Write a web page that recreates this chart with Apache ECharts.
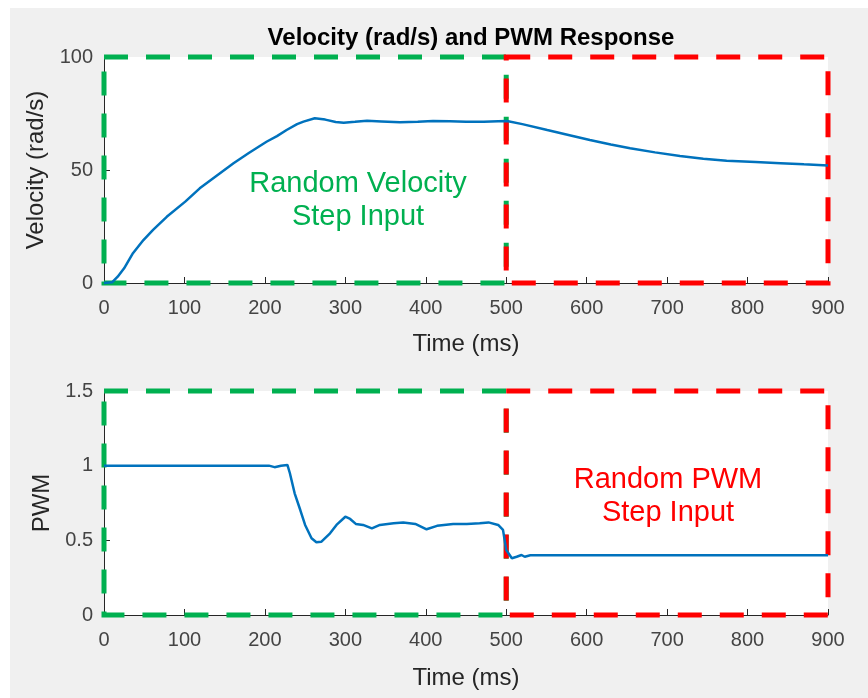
<!DOCTYPE html>
<html>
<head>
<meta charset="utf-8">
<script src="https://cdn.jsdelivr.net/npm/echarts@6/dist/echarts.min.js"></script>
<style>
  html, body { margin: 0; padding: 0; background: #ffffff; }
  #chart { width: 868px; height: 698px; }
</style>
</head>
<body>
<div id="chart"></div>
<script>
// Velocity response (time in ms, velocity in rad/s)
const velTime = [0, 10, 17, 25, 36, 49, 61, 78, 101, 119, 140, 161, 180, 202, 215, 227, 240, 248, 262, 275, 288, 298, 312, 327, 345, 368, 390, 409, 430, 450, 472, 490, 501, 520, 551, 580, 604, 630, 654, 685, 716, 745, 774, 810, 841, 870, 900];
const velocity = [0, 0.3, 2.8, 6.5, 13.2, 19, 23.5, 29.3, 36, 41.9, 47.5, 53, 57.5, 62.5, 65, 67.7, 70.3, 71.4, 72.9, 72.3, 71.2, 70.9, 71.3, 71.8, 71.5, 71.1, 71.3, 71.7, 71.6, 71.4, 71.4, 71.6, 71.7, 70.3, 67.7, 65.3, 63.3, 61.3, 59.6, 57.8, 56.2, 55, 54.1, 53.5, 53, 52.5, 52];

// PWM command (time in ms, normalised duty)
const pwmTime = [0, 205, 212, 220, 228, 231, 237, 244, 250, 258, 264, 270, 281, 289, 300, 306, 313, 322, 333, 343, 360, 372, 387, 401, 414, 434, 451, 467, 478, 490, 496, 500, 507, 513, 519, 523, 530, 900];
const pwm = [1, 1, 0.99, 1.0, 1.005, 0.951, 0.815, 0.703, 0.603, 0.514, 0.487, 0.49, 0.547, 0.603, 0.658, 0.643, 0.61, 0.603, 0.58, 0.603, 0.614, 0.62, 0.61, 0.574, 0.597, 0.61, 0.61, 0.614, 0.62, 0.603, 0.57, 0.435, 0.38, 0.39, 0.402, 0.39, 0.4, 0.4];

// Axis settings
const timeTicks = { min: 0, max: 900, interval: 100 };
const velTicks = { min: 0, max: 100, interval: 50 };
const pwmTicks = { min: 0, max: 1.5, interval: 0.5 };
const splitTime = 500;

const FONT = "'Liberation Sans', Arial, Helvetica, sans-serif";
const AXIS_DARK = '#262626';
const TICK_TEXT = '#444444';
const GREEN = '#00B050';
const RED = '#FF0000';
const BLUE = '#0072BD';

function pairs(xs, ys) { return xs.map((x, i) => [x, ys[i]]); }

function xAxisCfg(gridIndex, gap) {
  return {
    type: 'value', gridIndex,
    min: timeTicks.min, max: timeTicks.max, interval: timeTicks.interval,
    name: 'Time (ms)', nameLocation: 'middle', nameGap: gap,
    nameTextStyle: { fontFamily: FONT, fontSize: 24, color: AXIS_DARK },
    axisLine: { show: true, onZero: false, lineStyle: { color: AXIS_DARK, width: 1 } },
    axisTick: { show: true, inside: true, length: 6, lineStyle: { color: AXIS_DARK } },
    axisLabel: { fontFamily: FONT, fontSize: 20, color: TICK_TEXT, margin: 15 },
    splitLine: { show: false }
  };
}

function yAxisCfg(gridIndex, ticks, name, gap) {
  return {
    type: 'value', gridIndex,
    min: ticks.min, max: ticks.max, interval: ticks.interval,
    name, nameLocation: 'middle', nameGap: gap,
    nameTextStyle: { fontFamily: FONT, fontSize: 24, color: AXIS_DARK },
    axisLine: { show: true, onZero: false, lineStyle: { color: AXIS_DARK, width: 1 } },
    axisTick: { show: true, inside: true, length: 6, lineStyle: { color: AXIS_DARK } },
    axisLabel: { fontFamily: FONT, fontSize: 20, color: TICK_TEXT, margin: 11 },
    splitLine: { show: false }
  };
}

// Dashed outlines marking the two input regions of each plot
function regionBoxes(yMin, yMax) {
  const box = (x0, x1, color) => [
    { xAxis: x0, yAxis: yMax, itemStyle: { color: 'rgba(0,0,0,0)', borderColor: color, borderWidth: 5, borderType: [24, 18] } },
    { xAxis: x1, yAxis: yMin }
  ];
  return {
    silent: true,
    label: { show: false },
    data: [box(timeTicks.min, splitTime, GREEN), box(splitTime, timeTicks.max, RED)]
  };
}

const chart = echarts.init(document.getElementById('chart'), null, { renderer: 'canvas' });

chart.setOption({
  animation: false,
  backgroundColor: '#ffffff',
  title: {
    text: 'Velocity (rad/s) and PWM Response',
    left: 466, top: 21, textAlign: 'center',
    textStyle: { fontFamily: FONT, fontSize: 24, fontWeight: 'bold', color: '#000000' }
  },
  grid: [
    { left: 104, right: 40, top: 57, height: 226, show: true, backgroundColor: '#ffffff', borderWidth: 0 },
    { left: 104, right: 40, top: 391, height: 224, show: true, backgroundColor: '#ffffff', borderWidth: 0 }
  ],
  xAxis: [xAxisCfg(0, 49), xAxisCfg(1, 51)],
  yAxis: [yAxisCfg(0, velTicks, 'Velocity (rad/s)', 50), yAxisCfg(1, pwmTicks, 'PWM', 49)],
  graphic: [
    { type: 'rect', z: -10, silent: true, shape: { x: 10, y: 8, width: 858, height: 690 }, style: { fill: '#f0f0f0' } },
    {
      type: 'text', z: 100, silent: true, x: 358, y: 200,
      style: {
        text: 'Random Velocity\nStep Input', fill: GREEN, font: '29px ' + FONT,
        align: 'center', verticalAlign: 'middle', lineHeight: 33
      }
    },
    {
      type: 'text', z: 100, silent: true, x: 668, y: 496,
      style: {
        text: 'Random PWM\nStep Input', fill: RED, font: '29px ' + FONT,
        align: 'center', verticalAlign: 'middle', lineHeight: 33
      }
    }
  ],
  series: [
    {
      type: 'line', xAxisIndex: 0, yAxisIndex: 0, clip: false,
      data: pairs(velTime, velocity), showSymbol: false, symbol: 'none',
      lineStyle: { color: BLUE, width: 2.5 },
      markArea: regionBoxes(velTicks.min, velTicks.max)
    },
    {
      type: 'line', xAxisIndex: 1, yAxisIndex: 1, clip: false,
      data: pairs(pwmTime, pwm), showSymbol: false, symbol: 'none',
      lineStyle: { color: BLUE, width: 2.5 },
      markArea: regionBoxes(pwmTicks.min, pwmTicks.max)
    }
  ]
});
</script>
</body>
</html>
